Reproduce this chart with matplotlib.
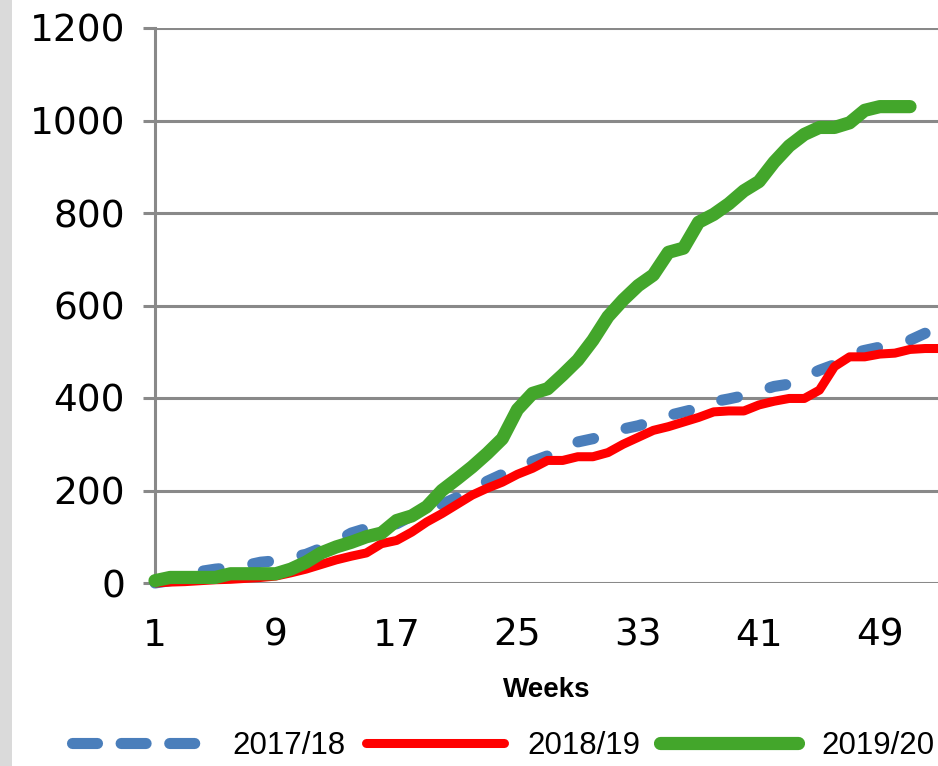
import numpy as np
import matplotlib
matplotlib.use('Agg')
import matplotlib.pyplot as plt
from matplotlib.lines import Line2D
from matplotlib.patches import Rectangle

plt.rcParams['lines.scale_dashes'] = False

# cumulative counts per week for each season
weeks_1718 = np.arange(1, 53)
counts_1718 = [0, 5, 12, 25, 30, 33, 38, 45, 48, 55, 62, 75, 90, 108, 118, 122, 128, 145,
               160, 170, 185, 200, 220, 235, 250, 263, 275, 290, 305, 312, 322, 333, 340,
               350, 362, 370, 378, 392, 398, 405, 415, 425, 430, 445, 460, 472, 495, 503,
               510, 518, 525, 540]

weeks_1819 = np.arange(1, 54)
counts_1819 = [0, 2, 3, 5, 7, 8, 10, 12, 15, 22, 30, 40, 50, 58, 65, 85, 92, 110, 132, 150,
               170, 190, 205, 218, 235, 248, 265, 265, 273, 273, 282, 300, 315, 330, 338,
               348, 358, 370, 372, 372, 385, 393, 399, 399, 417, 468, 489, 489, 495, 497,
               505, 507, 507]

weeks_1920 = np.arange(1, 52)
counts_1920 = [5, 12, 12, 12, 12, 20, 20, 20, 20, 30, 45, 65, 78, 88, 100, 108, 135, 145,
               165, 200, 225, 251, 280, 312, 375, 410, 420, 450, 482, 525, 576, 612, 643,
               666, 715, 724, 780, 797, 820, 848, 868, 910, 945, 970, 985, 985, 995, 1022,
               1030, 1030, 1030]

season_labels = ['2017/18', '2018/19', '2019/20']
x_ticks = [1, 9, 17, 25, 33, 41, 49]
y_ticks = [0, 200, 400, 600, 800, 1000, 1200]

BLUE = '#4a7ebb'
RED = '#ff0000'
GREEN = '#43a62b'
GRID = '#898989'

fig = plt.figure(figsize=(9.38, 7.66), dpi=100)
fig.patches.append(Rectangle((0, 0), 12 / 938, 1, transform=fig.transFigure,
                             facecolor='#dadada', edgecolor='none', zorder=0))

ax = fig.add_axes([155 / 938, 1 - 583 / 766, 1 - 155 / 938, (583 - 28) / 766])

ax.plot(weeks_1718, counts_1718, color=BLUE, lw=8, dashes=(11.5, 24.5),
        dash_capstyle='round', solid_joinstyle='round', clip_on=False, zorder=3)
ax.plot(weeks_1819, counts_1819, color=RED, lw=6.5, solid_capstyle='butt',
        solid_joinstyle='round', clip_on=False, zorder=4)
ax.plot(weeks_1920, counts_1920, color=GREEN, lw=9.5, solid_capstyle='round',
        solid_joinstyle='round', clip_on=False, zorder=5)

ax.set_xlim(1, 1 + (938 - 155) / 15.1)
ax.set_ylim(0, 1200)
ax.set_xticks(x_ticks)
ax.set_yticks(y_ticks)
ax.set_xticklabels([str(t) for t in x_ticks], fontsize=27, family='DejaVu Sans')
ax.set_yticklabels([str(t) for t in y_ticks], fontsize=27, family='DejaVu Sans')

ax.grid(axis='y', color=GRID, lw=2.2, zorder=1)
ax.set_axisbelow(True)
for side in ['top', 'right', 'bottom']:
    ax.spines[side].set_visible(False)
ax.spines['left'].set_color(GRID)
ax.spines['left'].set_linewidth(2.2)
ax.tick_params(axis='y', length=8.5, width=2.2, color=GRID, pad=13)
ax.tick_params(axis='x', length=0, pad=25)

ax.set_xlabel('Weeks', fontsize=20, fontweight='bold', family='Liberation Sans', labelpad=17)

handles = [
    Line2D([], [], color=BLUE, lw=8, dashes=(18, 17), dash_capstyle='round'),
    Line2D([], [], color=RED, lw=6.5, solid_capstyle='round'),
    Line2D([], [], color=GREEN, lw=9.5, solid_capstyle='round'),
]
fig.legend(handles, season_labels, loc='center', bbox_to_anchor=(503 / 938, 1 - 746 / 766),
           ncol=3, frameon=False, prop={'family': 'Liberation Sans', 'size': 22.5},
           handlelength=4.4, handletextpad=0.75, columnspacing=0.65, borderpad=0)

fig.savefig('out.png', dpi=100)
